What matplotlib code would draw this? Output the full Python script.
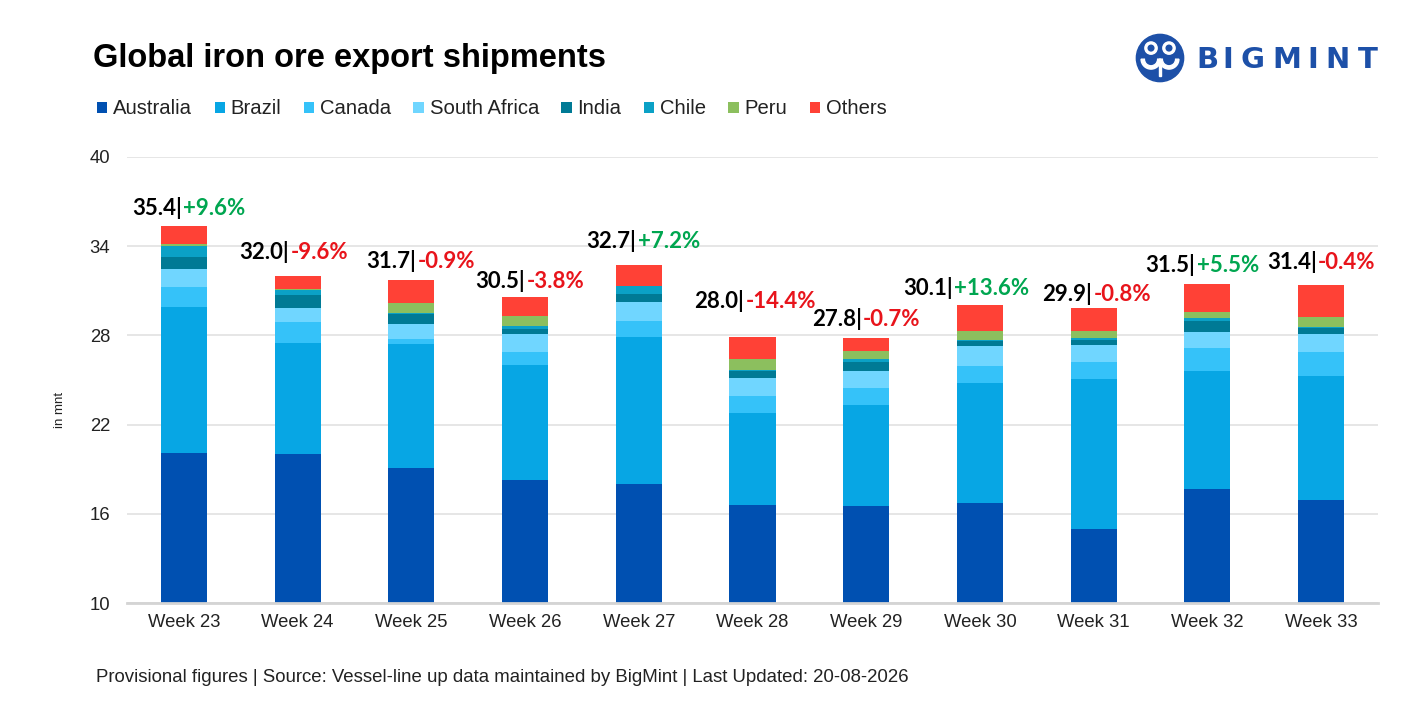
import matplotlib
matplotlib.use("Agg")
import matplotlib.pyplot as plt
from matplotlib.patches import Patch, Circle, Wedge, Rectangle
from matplotlib.offsetbox import TextArea, HPacker, AnnotationBbox
import numpy as np

# ---------------- data ----------------
weeks = ["Week 23", "Week 24", "Week 25", "Week 26", "Week 27", "Week 28",
         "Week 29", "Week 30", "Week 31", "Week 32", "Week 33"]
australia    = [20.1, 20.0, 19.1, 18.3, 18.0, 16.6, 16.5, 16.7, 15.0, 17.7, 16.9]
brazil       = [9.8, 7.5, 8.3, 7.7, 9.9, 6.2, 6.8, 8.1, 10.1, 7.9, 8.4]
canada       = [1.35, 1.4, 0.35, 0.9, 1.05, 1.15, 1.15, 1.15, 1.1, 1.55, 1.6]
south_africa = [1.2, 0.95, 1.05, 1.2, 1.3, 1.2, 1.15, 1.35, 1.15, 1.1, 1.2]
india        = [0.85, 0.9, 0.65, 0.35, 0.55, 0.45, 0.6, 0.35, 0.35, 0.75, 0.4]
chile        = [0.7, 0.3, 0.05, 0.2, 0.5, 0.05, 0.2, 0.05, 0.1, 0.2, 0.05]
peru         = [0.15, 0.1, 0.7, 0.65, 0.05, 0.75, 0.55, 0.6, 0.5, 0.35, 0.7]
others       = [1.2, 0.85, 1.5, 1.25, 1.4, 1.5, 0.9, 1.75, 1.55, 1.9, 2.15]
totals       = [35.4, 32.0, 31.7, 30.5, 32.7, 28.0, 27.8, 30.1, 29.9, 31.5, 31.4]
pct_change   = [9.6, -9.6, -0.9, -3.8, 7.2, -14.4, -0.7, 13.6, -0.8, 5.5, -0.4]
series_names = ["Australia", "Brazil", "Canada", "South Africa", "India",
                "Chile", "Peru", "Others"]
y_ticks = [10, 16, 22, 28, 34, 40]

# label placement nudges (pixels), layout only
label_dx_px = [5, -3.5, 9.5, 5, 4.5, 3, 0, -14, 3, -5, 0]
label_lift_px = [10, 16, 11, 8, 16, 28, 11, 9, 6, 11, 15]

series_vals = [australia, brazil, canada, south_africa, india, chile, peru, others]
colors = ["#0050B1", "#07A6E4", "#35C2F9", "#70D6FF", "#007A95",
          "#0BA1C6", "#8CBF5E", "#FF4136"]

W, H = 1417, 709
fig = plt.figure(figsize=(W / 100, H / 100), dpi=100)
fig.patch.set_facecolor("white")

ax = fig.add_axes([127 / W, (H - 603) / H, (1378 - 127) / W, (603 - 157) / H])
x = np.arange(len(weeks))
bottom = np.zeros(len(weeks))
handles = []
for name, vals, col in zip(series_names, series_vals, colors):
    vals = np.array(vals)
    ax.bar(x, vals, bottom=bottom, width=0.405, color=col, zorder=3,
           linewidth=0)
    bottom += vals
    handles.append(Patch(facecolor=col, edgecolor="none", label=name))

ax.set_xlim(-0.5, len(weeks) - 0.5)
ax.set_ylim(y_ticks[0], y_ticks[-1])
ax.set_yticks(y_ticks)
ax.set_xticks(x)
ax.set_xticklabels(weeks)
ax.yaxis.grid(True, color="#E6E6E6", linewidth=1.4, zorder=0)
ax.set_axisbelow(True)
for s in ["top", "right", "left"]:
    ax.spines[s].set_visible(False)
ax.spines["bottom"].set_color("#D4D4D4")
ax.spines["bottom"].set_linewidth(2)
ax.spines["bottom"].set_zorder(4)
ax.tick_params(axis="both", length=0, labelsize=13.3, colors="#222222")
ax.tick_params(axis="y", pad=12)
ax.tick_params(axis="x", pad=8)
for t in ax.get_xticklabels() + ax.get_yticklabels():
    t.set_family(["Liberation Sans", "DejaVu Sans"])

# data labels
for i in range(len(weeks)):
    p = pct_change[i]
    pcol = "#00A650" if p > 0 else "#E8141B"
    ta1 = TextArea(f"{totals[i]:.1f}|", textprops=dict(
        color="black", fontsize=16, fontweight="bold", family="Lato"))
    ta2 = TextArea(f"{p:+.1f}%", textprops=dict(
        color=pcol, fontsize=16, fontweight="bold", family="Lato"))
    box = HPacker(children=[ta1, ta2], pad=0, sep=1, align="baseline")
    ab = AnnotationBbox(box, (x[i], bottom[i]),
                        xybox=(label_dx_px[i] * 0.72, (label_lift_px[i] - 3) * 0.72),
                        xycoords="data", boxcoords="offset points",
                        box_alignment=(0.5, 0), frameon=False, pad=0,
                        annotation_clip=False)
    ax.add_artist(ab)

# y axis label
fig.text(60 / W, 1 - 410 / H, "in mnt", rotation=90, fontsize=9.5,
         va="center", ha="center", color="#222222",
         family=["Liberation Sans", "DejaVu Sans"])

# title
fig.text(93 / W, 1 - 59 / H, "Global iron ore export shipments",
         fontsize=23.5, fontweight="bold", va="center", ha="left",
         color="black", family=["Liberation Sans", "DejaVu Sans"])

# legend
leg = fig.legend(handles=handles, loc="center left",
                 bbox_to_anchor=(97 / W, 1 - 109 / H), ncol=8, frameon=False,
                 handlelength=0.5, handleheight=0.5,
                 handletextpad=0.3, columnspacing=1.1, borderaxespad=0,
                 borderpad=0, prop={"family": ["Liberation Sans", "DejaVu Sans"], "size": 14.6})
for t in leg.get_texts():
    t.set_color("#222222")

# footer
fig.text(96 / W, 1 - 678 / H,
         "Provisional figures | Source: Vessel-line up data maintained by BigMint | Last Updated: 20-08-2026",
         fontsize=13.4, va="center", ha="left", color="#222222",
         family=["Liberation Sans", "DejaVu Sans"])

# logo
logo_blue = "#1D50A8"
lax = fig.add_axes([1134 / W, 1 - 84 / H, 52 / W, 52 / H])
lax.set_xlim(-1.1, 1.1)
lax.set_ylim(-1.1, 1.1)
lax.set_aspect("equal")
lax.axis("off")
lax.add_patch(Circle((0, 0), 1.0, color=logo_blue))
for cx in (-0.38, 0.38):
    lax.add_patch(Circle((cx, 0.42), 0.26, color="white"))
    lax.add_patch(Circle((cx, 0.42), 0.12, color=logo_blue))
    lax.add_patch(Wedge((cx, -0.05), 0.42, 180, 360, width=0.14, color="white"))
lax.add_patch(Rectangle((-0.06, -0.75), 0.12, 0.55, color="white"))
letters = "BIGMINT"
lx = [1207, 1228, 1253, 1287, 1313, 1338, 1368]
for ch, px in zip(letters, lx):
    fig.text(px / W, 1 - 60 / H, ch, fontsize=21, fontweight="bold",
             color=logo_blue, ha="center", va="center",
             family=["DejaVu Sans"])

fig.savefig("out.png", dpi=100, facecolor="white")
